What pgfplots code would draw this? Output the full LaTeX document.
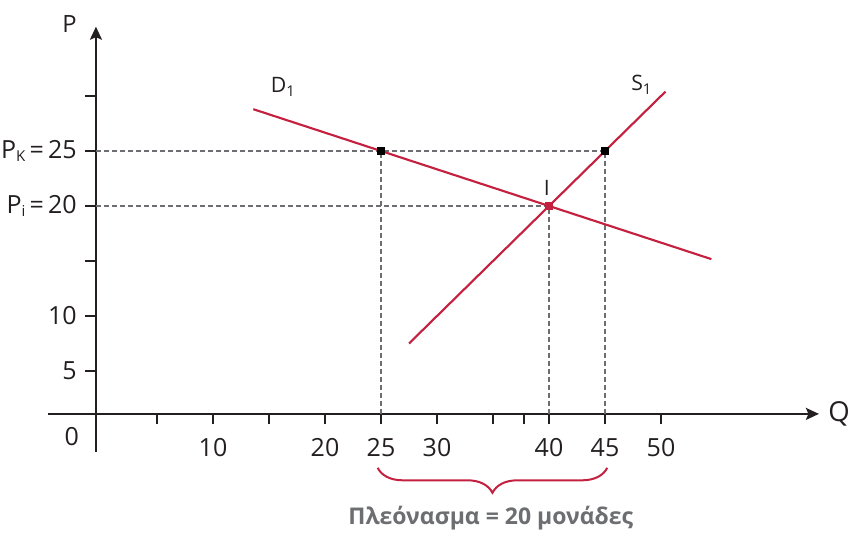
\documentclass[border=0pt]{standalone}
\usepackage{pgfplots}
\pgfplotsset{compat=1.18}
\usepackage{fontspec}
\setmainfont{Open Sans}
\usetikzlibrary{arrows.meta,decorations.pathreplacing}
\definecolor{curvered}{HTML}{C4203F}
\definecolor{guidegray}{HTML}{6D6E71}
\definecolor{inkblack}{HTML}{231F20}

\begin{document}
\begin{tikzpicture}
\begin{axis}[
  x=4.48pt, y=4.4pt,
  xmin=-0.45, xmax=64.1, ymin=1.1, ymax=36.3,
  enlargelimits=false,
  clip=false,
  axis lines=left,
  axis line style={line width=0.8pt, inkblack},
  x axis line style={-{Stealth[length=5.2pt,width=4.8pt,inset=1pt]}},
  y axis line style={-{Stealth[length=5.2pt,width=4.8pt,inset=1pt]}},
  tick align=outside,
  major tick length=4.2pt,
  tick style={line width=0.7pt, inkblack},
  xtick={5,10,15,20,25,30,35,37.8,40,45,50},
  xticklabels={,10,,20,25,30,,,40,45,50},
  ytick={5,10,15,20,25,30},
  yticklabels={5,10,,P{\fontsize{6}{7}\selectfont\raisebox{-0.45ex}{i}}\,=\,20,P{\fontsize{6}{7}\selectfont\raisebox{-0.45ex}{K}}\,=\,25,},
  /pgf/number format/assume math mode=true,
  ticklabel style={font=\fontsize{10}{12}\selectfont, text=inkblack},
  xticklabel style={yshift=-2pt},
]
% guide lines
\addplot[guidegray, line width=0.75pt, dash pattern=on 1.9pt off 1.3pt] coordinates {(-0.45,25) (45,25)};
\addplot[guidegray, line width=0.75pt, dash pattern=on 1.9pt off 1.3pt] coordinates {(-0.45,20) (40,20)};
\addplot[guidegray, line width=0.75pt, dash pattern=on 1.9pt off 1.3pt] coordinates {(25,1.1) (25,25)};
\addplot[guidegray, line width=0.75pt, dash pattern=on 1.9pt off 1.3pt] coordinates {(40,1.1) (40,20)};
\addplot[guidegray, line width=0.75pt, dash pattern=on 1.9pt off 1.3pt] coordinates {(45,1.1) (45,25)};
% demand D1 and supply S1
\addplot[curvered, line width=0.85pt] coordinates {(13.6,28.8) (54.5,15.17)};
\addplot[curvered, line width=0.85pt] coordinates {(27.5,7.5) (50.4,30.4)};
% points
\addplot[only marks, mark=square*, mark size=1.4pt, black] coordinates {(25,25) (45,25)};
\addplot[only marks, mark=square*, mark size=1.4pt, curvered] coordinates {(40,20)};

% axis extensions past the crossing
\draw[line width=0.8pt, inkblack] (axis cs:-4.73,1.1) -- (axis cs:-0.45,1.1);
\draw[line width=0.8pt, inkblack] (axis cs:-0.45,1.1) -- (axis cs:-0.45,-2.36);

\node[font=\fontsize{9.5}{11}\selectfont, text=inkblack] at (axis cs:-2.8,36.5) {P};
\node[font=\fontsize{11}{13}\selectfont, text=inkblack] at (axis cs:65.9,1.1) {Q};
\node[font=\fontsize{10}{12}\selectfont, text=inkblack] at (axis cs:-2.6,-1.0) {0};
\node[font=\fontsize{8.5}{10}\selectfont, text=inkblack] at (axis cs:16.3,30.8) {D\textsubscript{1}};
\node[font=\fontsize{8.5}{10}\selectfont, text=inkblack] at (axis cs:48.3,31) {S\textsubscript{1}};
\node[font=\fontsize{8.5}{10}\selectfont, text=inkblack] at (axis cs:39.8,21.6) {I};

% surplus brace
\draw[curvered, line width=0.8pt, decorate, decoration={brace, mirror, amplitude=10pt}]
  (axis cs:24.7,-3.8) -- (axis cs:45.2,-3.8);
\node[font=\bfseries\fontsize{9.2}{11}\selectfont, text=guidegray] at (axis cs:34.8,-8.4) {Πλεόνασμα = 20 μονάδες};

\coordinate (O) at (axis cs:0,0);
\end{axis}
\pgfresetboundingbox
\useasboundingbox (O) ++(-40.4pt,-43.6pt) rectangle ++(339.6pt,214pt);
\end{tikzpicture}
\end{document}
